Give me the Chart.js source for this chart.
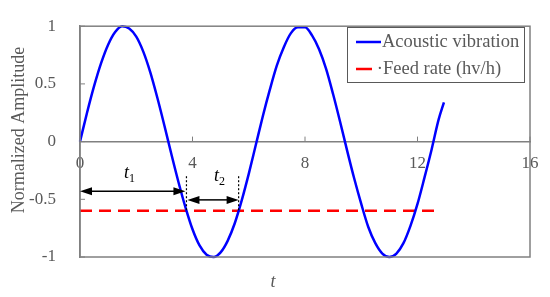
<!DOCTYPE html>
<html>
<head>
<meta charset="utf-8">
<script src="https://cdn.jsdelivr.net/npm/chart.js@4/dist/chart.umd.min.js"></script>
<style>
  html, body { margin: 0; padding: 0; background: #fff; }
</style>
</head>
<body>
<canvas id="chart" width="550" height="297"></canvas>
<script>
// Data
const tValues = [0, 0.25, 0.5, 0.75, 1, 1.25, 1.5, 1.75, 2, 2.25, 2.5, 2.75, 3, 3.25, 3.5, 3.75,
  4, 4.25, 4.5, 4.75, 5, 5.25, 5.5, 5.75, 6, 6.25, 6.5, 6.75, 7, 7.25, 7.5, 7.75,
  8, 8.25, 8.5, 8.75, 9, 9.25, 9.5, 9.75, 10, 10.25, 10.5, 10.75, 11, 11.25, 11.5, 11.75,
  12, 12.25, 12.5, 12.75, 12.94];
const vibration = [0, 0.25, 0.48, 0.68, 0.84, 0.95, 1.0, 0.98, 0.91, 0.78, 0.6, 0.38, 0.14, -0.11, -0.35, -0.57,
  -0.76, -0.9, -0.98, -1.0, -0.96, -0.86, -0.71, -0.51, -0.28, -0.03, 0.22, 0.45, 0.66, 0.82, 0.94, 0.99,
  0.99, 0.92, 0.8, 0.63, 0.41, 0.17, -0.08, -0.32, -0.54, -0.74, -0.88, -0.97, -1.0, -0.97, -0.88, -0.73,
  -0.54, -0.31, -0.07, 0.19, 0.34];
const feedT = [0, 12.8];
const feedRate = [-0.6, -0.6];
const seriesLabels = ['Acoustic vibration', '\u00b7Feed rate (hv/h)'];
const xTicks = [0, 4, 8, 12, 16];
const yTicks = [-1, -0.5, 0, 0.5, 1];
// t1 / t2 markers (crossings of the feed line)
const cross1 = 3.785, cross2 = 5.64;

const TXT = '#595959';
const FRAME = '#808080';
const SERIF = '"Liberation Serif", "DejaVu Serif", serif';

function toPoints(xs, ys) {
  return xs.map((x, i) => ({ x: x, y: ys[i] }));
}

function arrow(ctx, x1, x2, y) {
  const h = 12, w = 4;
  ctx.beginPath();
  ctx.moveTo(x1 + h - 1, y);
  ctx.lineTo(x2 - h + 1, y);
  ctx.stroke();
  ctx.beginPath();
  ctx.moveTo(x1, y); ctx.lineTo(x1 + h, y - w); ctx.lineTo(x1 + h, y + w); ctx.closePath();
  ctx.fill();
  ctx.beginPath();
  ctx.moveTo(x2, y); ctx.lineTo(x2 - h, y - w); ctx.lineTo(x2 - h, y + w); ctx.closePath();
  ctx.fill();
}

function subLabel(ctx, x, y, sub) {
  ctx.font = 'italic 18px ' + SERIF;
  ctx.textAlign = 'left';
  ctx.textBaseline = 'alphabetic';
  ctx.fillText('t', x, y);
  ctx.font = '12px ' + SERIF;
  ctx.fillText(sub, x + 5, y + 4);
}

const decorPlugin = {
  id: 'decor',
  afterDraw(chart) {
    const ctx = chart.ctx;
    const a = chart.chartArea;
    const xs = chart.scales.x, ys = chart.scales.y;
    ctx.save();

    // frame
    ctx.strokeStyle = FRAME;
    ctx.lineWidth = 1.5;
    ctx.strokeRect(a.left, a.top, a.right - a.left, a.bottom - a.top);

    // inward tick marks
    const y0 = ys.getPixelForValue(0);
    ctx.lineWidth = 1;
    xTicks.forEach(v => {
      const px = xs.getPixelForValue(v);
      ctx.beginPath(); ctx.moveTo(px, y0); ctx.lineTo(px, y0 - 5); ctx.stroke();
    });
    yTicks.forEach(v => {
      const py = ys.getPixelForValue(v);
      ctx.beginPath(); ctx.moveTo(a.left, py); ctx.lineTo(a.left + 5, py); ctx.stroke();
    });

    // t1 / t2 annotations
    ctx.strokeStyle = '#000';
    ctx.fillStyle = '#000';
    ctx.lineWidth = 1.5;
    const c1 = xs.getPixelForValue(cross1), c2 = xs.getPixelForValue(cross2);
    arrow(ctx, xs.getPixelForValue(0), c1 - 1, ys.getPixelForValue(-0.43));
    arrow(ctx, c1 + 1, c2, ys.getPixelForValue(-0.505));
    ctx.setLineDash([2, 2]);
    ctx.lineWidth = 1.2;
    [c1, c2].forEach(px => {
      ctx.beginPath();
      ctx.moveTo(px, ys.getPixelForValue(-0.3));
      ctx.lineTo(px, ys.getPixelForValue(-0.6));
      ctx.stroke();
    });
    ctx.setLineDash([]);
    subLabel(ctx, 124, 178, '1');
    subLabel(ctx, 214, 181, '2');

    // axis titles
    ctx.fillStyle = TXT;
    ctx.font = 'italic 18px ' + SERIF;
    ctx.textAlign = 'center';
    ctx.textBaseline = 'alphabetic';
    ctx.fillText('t', 273, 287);
    ctx.save();
    ctx.translate(19, 130);
    ctx.rotate(-Math.PI / 2);
    ctx.font = '18px ' + SERIF;
    ctx.textBaseline = 'middle';
    ctx.fillText('Normalized Amplitude', 0, 0);
    ctx.restore();

    // legend
    const lx = 347.5, ly = 27.5, lw = 177, lh = 55;
    ctx.fillStyle = '#fff';
    ctx.fillRect(lx, ly, lw, lh);
    ctx.strokeStyle = TXT;
    ctx.lineWidth = 1;
    ctx.strokeRect(lx, ly, lw, lh);
    const ds = chart.data.datasets;
    ctx.lineWidth = 2.5;
    ctx.strokeStyle = ds[0].borderColor;
    ctx.beginPath(); ctx.moveTo(356, 42); ctx.lineTo(381, 42); ctx.stroke();
    ctx.strokeStyle = ds[1].borderColor;
    ctx.beginPath(); ctx.moveTo(356, 69); ctx.lineTo(372, 69); ctx.stroke();
    ctx.fillStyle = TXT;
    ctx.font = '18.5px ' + SERIF;
    ctx.textAlign = 'left';
    ctx.textBaseline = 'middle';
    ctx.fillText(ds[0].label, 382, 42);
    const dotW = ctx.measureText('\u00b7').width;
    ctx.fillText(ds[1].label, 383 - dotW, 69);
    ctx.restore();
  }
};

const ctx = document.getElementById('chart').getContext('2d');
new Chart(ctx, {
  type: 'scatter',
  data: {
    datasets: [
      {
        label: seriesLabels[0],
        data: toPoints(tValues, vibration),
        showLine: true,
        borderColor: '#0000ff',
        borderWidth: 2.5,
        pointRadius: 0,
        cubicInterpolationMode: 'monotone',
        clip: false
      },
      {
        label: seriesLabels[1],
        data: toPoints(feedT, feedRate),
        showLine: true,
        borderColor: '#ff0000',
        borderWidth: 2.5,
        borderDash: [12, 7],
        pointRadius: 0,
        clip: false
      }
    ]
  },
  options: {
    responsive: false,
    animation: false,
    layout: { padding: { top: 19, right: 20, bottom: 40, left: 0 } },
    plugins: { legend: { display: false }, tooltip: { enabled: false } },
    scales: {
      x: {
        type: 'linear',
        position: { y: 0 },
        min: 0, max: 16,
        afterBuildTicks: s => { s.ticks = xTicks.map(v => ({ value: v })); },
        ticks: { color: TXT, font: { family: SERIF, size: 17 }, padding: 4, maxRotation: 0 },
        grid: { display: false },
        border: { display: true, color: FRAME, width: 1.5 }
      },
      y: {
        type: 'linear',
        min: -1, max: 1,
        afterBuildTicks: s => { s.ticks = yTicks.map(v => ({ value: v })); },
        afterFit: s => { s.width = 80; },
        ticks: { color: TXT, font: { family: SERIF, size: 17 }, padding: 16,
          callback: v => String(v) },
        grid: { display: false },
        border: { display: true, color: FRAME, width: 1.5 }
      }
    }
  },
  plugins: [decorPlugin]
});
</script>
</body>
</html>
